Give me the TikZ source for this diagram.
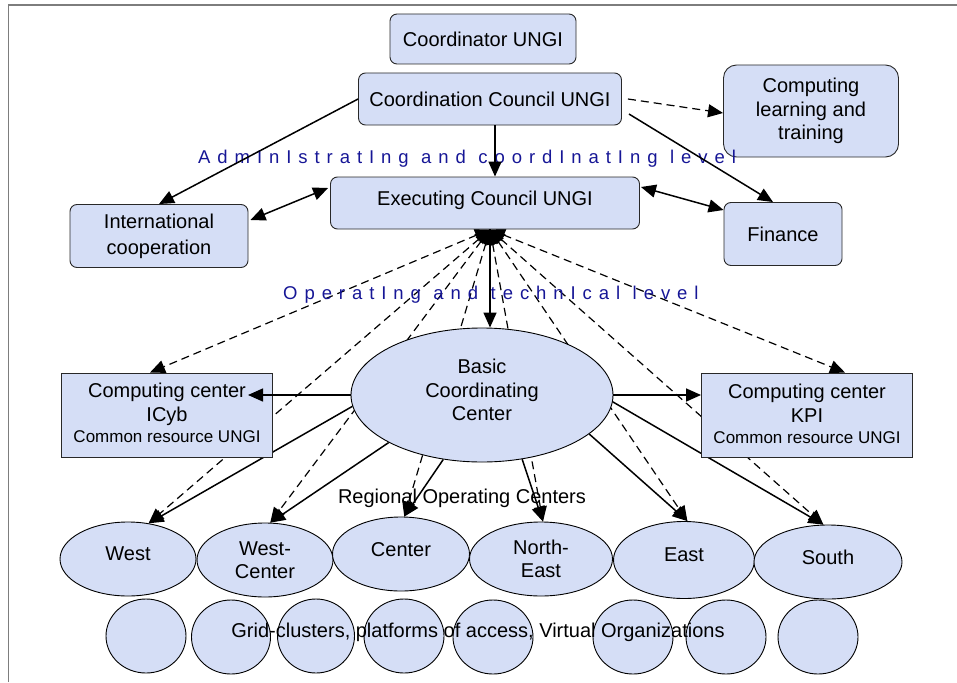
\documentclass[tikz,border=0pt]{standalone}
\usepackage{fontspec}
\setmainfont{Liberation Sans}
\newfontfamily\lvlfamily[LetterSpace=37.5]{Liberation Sans}
\newcommand\lvltext[1]{{\fontsize{18.5}{20}\lvlfamily #1}}
\newcommand\wsp{\hspace{12.5pt}}
\usetikzlibrary{arrows.meta,shapes.geometric}
\pgfdeclarelayer{background}
\pgfsetlayers{background,main}
\definecolor{boxfill}{RGB}{213,222,246}
\definecolor{lvlblue}{RGB}{22,22,150}
\definecolor{framegray}{RGB}{125,125,125}
\definecolor{edgegray}{RGB}{40,40,40}
\begin{document}
\begin{tikzpicture}[x=1pt,y=-1pt,
  base/.style={draw=edgegray,fill=boxfill,line width=0.9pt,align=center,inner sep=0pt,
               font=\fontsize{20}{23.5}\selectfont},
  rbox/.style={base,rounded corners=7pt},
  sbox/.style={base},
  oval/.style={base,ellipse,draw=black},
  intext/.style={inner sep=0pt,align=center,font=\fontsize{20}{23.5}\selectfont},
  conn/.style={line width=1.5pt,-{Triangle[length=15pt,width=13pt]}},
  dconn/.style={line width=1.2pt,dash pattern=on 8pt off 5pt,
                {Triangle[length=15pt,width=13pt]}-{Triangle[length=15pt,width=13pt]}},
  sdconn/.style={line width=1.2pt,dash pattern=on 8pt off 5pt,-{Triangle[length=15pt,width=13pt]}},
  dbl/.style={line width=1.5pt,{Triangle[length=15pt,width=13pt]}-{Triangle[length=15pt,width=13pt]}},
  lvl/.style={inner sep=0pt,anchor=base west,text=lvlblue},
  plain/.style={inner sep=0pt,font=\fontsize{20}{23}\selectfont}
]
\useasboundingbox (0,0) rectangle (957,682);
\draw[framegray,line width=1.4pt] (8.5,682) -- (8.5,5) -- (957,5);

% top level boxes
\node[rbox,minimum width=186,minimum height=50] (coord) at (483,39) {Coordinator UNGI};
\node[rbox,minimum width=263,minimum height=52] (council) at (490,99) {Coordination Council UNGI};
\node[rbox,rounded corners=13pt,minimum width=175,minimum height=92] (learn) at (811,111) {Computing\\learning and\\training};
\node[rbox,minimum width=309,minimum height=52,label={[intext,yshift=3pt]center:Executing Council UNGI}] (exec) at (485,203) {};
\node[rbox,minimum width=178,minimum height=63,
      label={[intext,font=\fontsize{20}{26}\selectfont]center:International\\cooperation}] (intl) at (159,236) {};
\node[rbox,minimum width=118,minimum height=63] (fin) at (783,234) {Finance};

% operating level
\node[sbox,minimum width=211,minimum height=84,
      label={[intext,yshift=2pt]center:Computing center\\ICyb\\[-2pt]{\fontsize{17}{20}\selectfont Common resource UNGI}}] (icyb) at (167,415) {};
\node[sbox,minimum width=211,minimum height=84,
      label={[intext,yshift=1pt]center:Computing center\\KPI\\[-2pt]{\fontsize{17}{20}\selectfont Common resource UNGI}}] (kpi) at (807,415) {};
\node[oval,minimum width=262,minimum height=134,
      label={[intext,yshift=5pt]center:Basic\\Coordinating\\Center}] (bcc) at (482,395) {};

% regional centers
\node[oval,minimum width=136,minimum height=74,label={[intext,yshift=5pt]center:West}] (west) at (128,559) {};
\node[oval,minimum width=136,minimum height=74] (wc) at (265,560) {West-\\Center};
\node[oval,minimum width=137,minimum height=74,label={[intext,yshift=4pt]center:Center}] (cen) at (401,554) {};
\node[oval,minimum width=143,minimum height=74] (ne) at (541,559) {North-\\East};
\node[oval,minimum width=141,minimum height=77,label={[intext,yshift=5pt]center:East}] (east) at (684,560) {};
\node[oval,minimum width=148,minimum height=74,label={[intext,yshift=5pt]center:South}] (south) at (828,562) {};

% grid clusters
\node[oval,minimum width=80,minimum height=74] (g1) at (146,636) {};
\node[oval,minimum width=79,minimum height=74] (g2) at (231,637) {};
\node[oval,minimum width=77,minimum height=74] (g3) at (316,636) {};
\node[oval,minimum width=80,minimum height=74] (g4) at (404,636) {};
\node[oval,minimum width=80,minimum height=74] (g5) at (493,637) {};
\node[oval,minimum width=80,minimum height=74] (g6) at (633,637) {};
\node[oval,minimum width=80,minimum height=74] (g7) at (726,637) {};
\node[oval,minimum width=80,minimum height=74] (g8) at (818,637) {};

% texts
\node[plain] (gridtxt) at (478,632) {Grid-clusters, platforms of access, Virtual Organizations};
\node[plain] (regtxt) at (462,498) {Regional Operating Centers};
\node[lvl] (adm) at (198,163) {\lvltext{AdmInIstratIng\wsp and\wsp coordInatIng\wsp level}};
\node[lvl] (oper) at (283,299) {\lvltext{OperatIng\wsp and\wsp technIcal\wsp level}};

\coordinate (icybin) at (248,395);
\coordinate (ecb) at ([xshift=5]exec.south);

% connectors behind the shapes
\begin{pgfonlayer}{background}
  \draw[dconn] (ecb) -- ([xshift=-17]icyb.north);
  \draw[dconn] (ecb) -- ([xshift=38]kpi.north);
  \draw[dconn] (ecb) -- (west.60);
  \draw[dconn] (ecb) -- (wc.82);
  \draw[dconn] (ecb) -- (cen.85);
  \draw[dconn] (ecb) -- (ne.87);
  \draw[dconn] (ecb) -- (east.85);
  \draw[dconn] (ecb) -- (south.97);
  \draw[conn] (bcc.185) -- (west.60);
  \draw[conn] (bcc.207) -- (wc.82);
  \draw[conn] (bcc.239) -- (cen.85);
  \draw[conn] (bcc.302) -- (ne.87);
  \draw[conn] (bcc.340) -- (east.85);
  \draw[conn] (bcc.357) -- (south.97);
\end{pgfonlayer}

% connectors on top
\draw[conn] (ecb) -- (ecb |- bcc.north);
\draw[conn] (bcc.west) -- (icybin);
\draw[conn] (bcc.east) -- (bcc.east -| kpi.west);
\draw[conn] (council.west) -- (intl.north);
\draw[conn] ([xshift=5]council.south) -- ([xshift=5]council.south |- exec.north);
\draw[sdconn] ([xshift=6]council.east) -- ([yshift=-2]learn.west);
\draw[conn] ([shift={(7,15)}]council.east) -- ([xshift=-10]fin.north);
\draw[dbl] ([shift={(2,-16)}]intl.east) -- ([shift={(-2,-15)}]exec.west);
\draw[dbl] ([shift={(1,-16)}]exec.east) -- ([shift={(0,-24)}]fin.west);
\end{tikzpicture}
\end{document}
